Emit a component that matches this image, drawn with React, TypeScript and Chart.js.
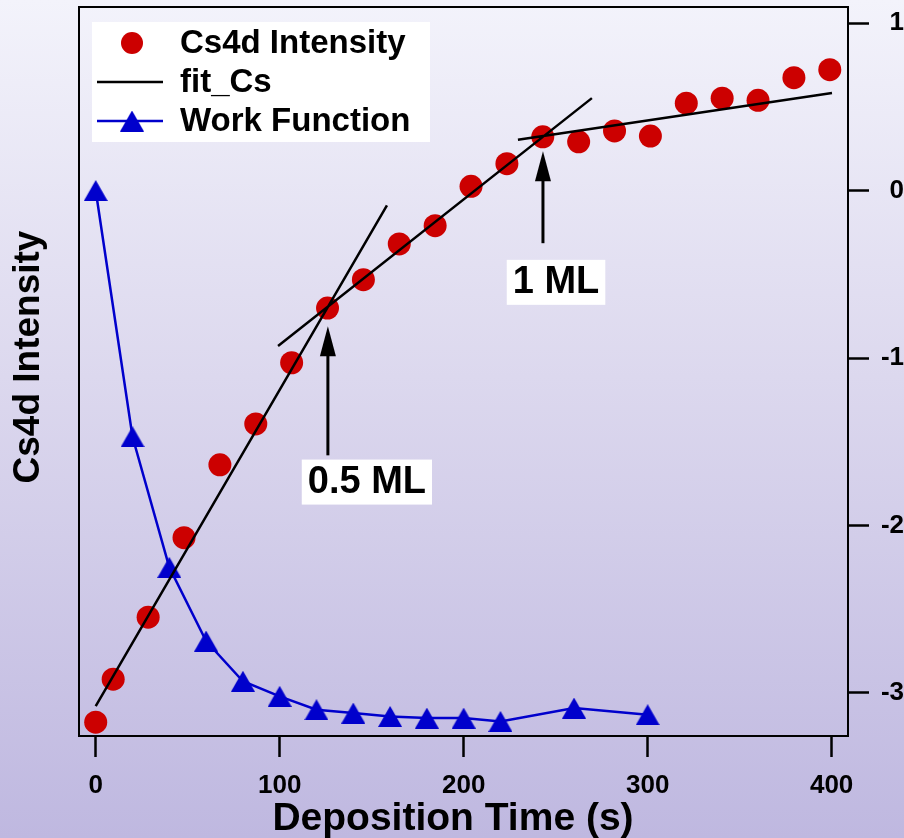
import React, { useEffect, useRef } from "react";
import { Chart, registerables } from "chart.js";

Chart.register(...registerables);

const FONT = "'Liberation Sans', Arial, Helvetica, sans-serif";

// Cs 4d core-level intensity vs. Cs deposition time (normalised units, left axis)
const csTime = [0, 9.5, 28.5, 48, 67.5, 87, 106.5, 126, 145.5, 165, 184.5, 204, 223.5, 243, 262.5, 282, 301.5, 321, 340.5, 360, 379.5, 399];
const csIntensity = [0.019, 0.078, 0.163, 0.272, 0.372, 0.428, 0.512, 0.587, 0.626, 0.675, 0.7, 0.754, 0.785, 0.822, 0.815, 0.83, 0.823, 0.868, 0.875, 0.872, 0.903, 0.914];

// work-function change vs. deposition time (right axis)
const wfTime = [0, 20, 40, 60, 80, 100, 120, 140, 160, 180, 200, 220, 260, 300];
const wfShift = [0, -1.47, -2.25, -2.69, -2.93, -3.02, -3.1, -3.12, -3.14, -3.15, -3.15, -3.17, -3.09, -3.13];

// linear fits to the Cs4d curve: one [start, end] pair per segment
const fitTime = [[0, 158.3], [99.1, 269.7], [229.5, 400.2]];
const fitValue = [[0.041, 0.728], [0.535, 0.875], [0.818, 0.882]];

// coverage markers (arrow + boxed label)
const markerText = ["0.5 ML", "1 ML"];
const markerTime = [126.2, 243.1];
const markerTip = [0.562, 0.802];
const markerTail = [0.385, 0.676];
const markerLabelTime = [147.4, 250.2];
const markerLabelValue = [0.349, 0.623];

const timeTicks = [0, 100, 200, 300, 400];
const wfTicks = [-3, -2, -1, 0, 1];

const seriesLabels = ["Cs4d Intensity", "fit_Cs", "Work Function"];
const xTitle = "Deposition Time (s)";
const yTitle = "Cs4d Intensity";

const RED = "#cc0000";
const BLUE = "#0000cc";

function makeTriangle(color: string) {
  const c = document.createElement("canvas");
  c.width = 24;
  c.height = 21;
  const g = c.getContext("2d")!;
  g.fillStyle = color;
  g.beginPath();
  g.moveTo(12, 0);
  g.lineTo(24, 21);
  g.lineTo(0, 21);
  g.closePath();
  g.fill();
  return c;
}

export default function App() {
  const ref = useRef<HTMLCanvasElement>(null);

  useEffect(() => {
    const canvas = ref.current!;
    const triangle = makeTriangle(BLUE);

    const fitData: { x: number; y: number | null }[] = [];
    fitTime.forEach((seg, i) => {
      fitData.push({ x: seg[0], y: fitValue[i][0] });
      fitData.push({ x: seg[1], y: fitValue[i][1] });
      if (i < fitTime.length - 1) fitData.push({ x: seg[1], y: null });
    });

    const decorations = {
      id: "decorations",
      afterDatasetsDraw(chart: any) {
        const { ctx, chartArea: a, scales } = chart;
        const sx = scales.x;
        const sy = scales.y;
        ctx.save();

        // plot frame
        ctx.strokeStyle = "#000";
        ctx.lineWidth = 2;
        ctx.strokeRect(a.left, a.top, a.right - a.left, a.bottom - a.top);

        // coverage arrows
        ctx.fillStyle = "#000";
        markerTime.forEach((t, i) => {
          const px = sx.getPixelForValue(t);
          const tip = sy.getPixelForValue(markerTip[i]);
          const tail = sy.getPixelForValue(markerTail[i]);
          ctx.lineWidth = 3;
          ctx.beginPath();
          ctx.moveTo(px, tail);
          ctx.lineTo(px, tip + 20);
          ctx.stroke();
          ctx.beginPath();
          ctx.moveTo(px, tip);
          ctx.lineTo(px - 8, tip + 30);
          ctx.lineTo(px + 8, tip + 30);
          ctx.closePath();
          ctx.fill();
        });

        // coverage labels
        ctx.font = `bold 38px ${FONT}`;
        ctx.textAlign = "center";
        ctx.textBaseline = "middle";
        markerText.forEach((txt, i) => {
          const cx = sx.getPixelForValue(markerLabelTime[i]);
          const cy = sy.getPixelForValue(markerLabelValue[i]);
          const w = ctx.measureText(txt).width + 12;
          ctx.fillStyle = "#fff";
          ctx.fillRect(cx - w / 2, cy - 22, w, 45);
          ctx.fillStyle = "#000";
          ctx.fillText(txt, cx, cy + 1);
        });

        // legend
        const lx = a.left + 13;
        const ly = a.top + 15;
        ctx.fillStyle = "#fff";
        ctx.fillRect(lx, ly, 338, 120);
        const mx = lx + 40;
        const rows = [ly + 21, ly + 60, ly + 99];
        ctx.fillStyle = RED;
        ctx.beginPath();
        ctx.arc(mx, rows[0], 11, 0, Math.PI * 2);
        ctx.fill();
        ctx.strokeStyle = "#000";
        ctx.lineWidth = 2.5;
        ctx.beginPath();
        ctx.moveTo(lx + 5, rows[1]);
        ctx.lineTo(lx + 71, rows[1]);
        ctx.stroke();
        ctx.strokeStyle = BLUE;
        ctx.beginPath();
        ctx.moveTo(lx + 5, rows[2]);
        ctx.lineTo(lx + 71, rows[2]);
        ctx.stroke();
        ctx.drawImage(triangle, mx - 12, rows[2] - 10.5);
        ctx.fillStyle = "#000";
        ctx.font = `bold 33px ${FONT}`;
        ctx.textAlign = "left";
        seriesLabels.forEach((s, i) => ctx.fillText(s, lx + 88, rows[i] + 1));

        // axis titles
        ctx.font = `bold 39px ${FONT}`;
        ctx.textAlign = "center";
        ctx.fillText(xTitle, 453, 819);
        ctx.save();
        ctx.translate(29, 357);
        ctx.rotate(-Math.PI / 2);
        ctx.font = `bold 37px ${FONT}`;
        ctx.fillText(yTitle, 0, 0);
        ctx.restore();

        ctx.restore();
      },
    };

    const tickFont = { family: FONT, size: 26, weight: "bold" as const };

    const chart = new Chart(canvas, {
      type: "line",
      data: {
        datasets: [
          {
            label: seriesLabels[1],
            data: fitData,
            yAxisID: "y",
            borderColor: "#000",
            borderWidth: 2.5,
            pointRadius: 0,
            spanGaps: false,
            order: 0,
          },
          {
            label: seriesLabels[0],
            data: csTime.map((t, i) => ({ x: t, y: csIntensity[i] })),
            yAxisID: "y",
            showLine: false,
            pointStyle: "circle",
            pointRadius: 11.5,
            pointBackgroundColor: RED,
            pointBorderWidth: 0,
            order: 1,
          },
          {
            label: seriesLabels[2],
            data: wfTime.map((t, i) => ({ x: t, y: wfShift[i] })),
            yAxisID: "y2",
            borderColor: BLUE,
            borderWidth: 2.5,
            pointStyle: triangle,
            pointRadius: 12,
            order: 2,
          },
        ],
      },
      options: {
        animation: false,
        responsive: false,
        devicePixelRatio: 1,
        layout: { autoPadding: false, padding: { top: 7, left: 0, right: 0, bottom: 0 } },
        plugins: { legend: { display: false }, tooltip: { enabled: false } },
        scales: {
          x: {
            type: "linear",
            min: -9.08,
            max: 408.9,
            afterBuildTicks: (axis: any) => {
              axis.ticks = timeTicks.map((v) => ({ value: v }));
            },
            afterFit: (axis: any) => {
              axis.height = 102;
              axis.paddingLeft = 0;
              axis.paddingRight = 0;
            },
            ticks: {
              font: tickFont,
              color: "#000",
              padding: 13,
              maxRotation: 0,
              autoSkip: false,
              callback: (v: any) => String(v),
            },
            grid: {
              drawOnChartArea: false,
              drawTicks: true,
              tickLength: 21,
              tickColor: "#000",
              tickWidth: 2.5,
            },
            border: { display: false },
          },
          y: {
            position: "left",
            min: 0,
            max: 1,
            afterFit: (axis: any) => {
              axis.width = 79;
              axis.paddingTop = 0;
              axis.paddingBottom = 0;
            },
            ticks: { display: false },
            grid: { display: false },
            border: { display: false },
          },
          y2: {
            position: "right",
            min: -3.257,
            max: 1.096,
            afterBuildTicks: (axis: any) => {
              axis.ticks = wfTicks.map((v) => ({ value: v }));
            },
            afterFit: (axis: any) => {
              axis.width = 56;
              axis.paddingTop = 0;
              axis.paddingBottom = 0;
            },
            ticks: {
              font: tickFont,
              color: "#000",
              padding: 12,
              crossAlign: "far",
              callback: (v: any) => String(v),
            },
            grid: {
              drawOnChartArea: false,
              drawTicks: true,
              tickLength: 21,
              tickColor: "#000",
              tickWidth: 2.5,
            },
            border: { display: false },
          },
        },
      },
      plugins: [decorations],
    } as any);

    return () => chart.destroy();
  }, []);

  return (
    <div
      style={{
        position: "fixed",
        left: 0,
        top: 0,
        width: 904,
        height: 838,
        background: "linear-gradient(to bottom, #f3f3fb 0%, #dcd8ee 45%, #bfb8e0 100%)",
      }}
    >
      <canvas ref={ref} width={904} height={838} style={{ display: "block" }} />
    </div>
  );
}
